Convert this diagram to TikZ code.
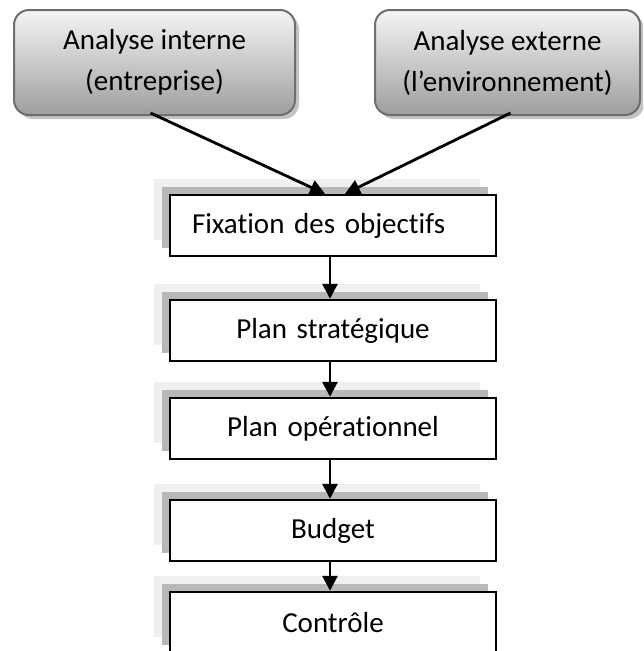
\documentclass[tikz,border=0pt]{standalone}
\usepackage{fontspec}
\setmainfont{Carlito}[Ligatures=NoCommon]
\usetikzlibrary{shadows,arrows.meta}
\definecolor{shadelight}{HTML}{F0F0F0}
\definecolor{shadedark}{HTML}{B8B8B8}
\definecolor{roundedge}{HTML}{6E6E6E}
\definecolor{dropgray}{HTML}{C4C4C4}
\tikzset{
  lbl/.style={font=\fontsize{29}{41}\selectfont},
  analysis/.style={lbl, rounded corners=15pt, draw=roundedge, line width=2pt,
    top color=black!4, bottom color=black!38, align=center,
    minimum height=105pt, inner sep=0pt,
    drop shadow={shadow xshift=4pt, shadow yshift=-4pt, fill=dropgray, opacity=1}},
  stagebox/.style={lbl, draw=black, line width=2.4pt, fill=white,
    minimum width=326pt, minimum height=61pt, inner xsep=22pt, inner ysep=0pt,
    text width=282pt, align=center,
    copy shadow={shadow xshift=-16pt, shadow yshift=16pt, fill=shadelight, draw=none},
    copy shadow={shadow xshift=-8pt, shadow yshift=8pt, fill=shadedark, draw=none}},
  flow/.style={line width=2.8pt, -{Triangle[width=15pt,length=15pt]}}
}
\begin{document}
\begin{tikzpicture}[x=1pt,y=-1pt]
  \useasboundingbox (0,0) rectangle (643,651);
  \clip (0,0) rectangle (643,651);

  % two analyses feeding the objectives
  \node[analysis, minimum width=281pt] (interne) at (154.5,62.5)
    {Analyse interne\\(entreprise)};
  \node[analysis, minimum width=265pt] (externe) at (507.5,62.5)
    {Analyse externe\\(l’environnement)};

  % planning chain
  \node[stagebox, align=left] (fix) at (333,225.5) {Fixation des objectifs};
  \node[stagebox] (strat) at (333,330.5) {Plan stratégique};
  \node[stagebox] (oper) at (333,428.5) {Plan opérationnel};
  \node[stagebox] (budget) at (333,530.5) {Budget};
  \node[stagebox] (ctrl) at (333,622.5) {Contrôle};

  % connectors
  \draw[flow] ([xshift=-4pt,yshift=3pt]interne.south) -- ([xshift=-8pt]fix.north);
  \draw[flow] ([xshift=3pt,yshift=3pt]externe.south) -- ([xshift=12pt]fix.north);
  \draw[flow] ([xshift=-3pt]fix.south) -- ([xshift=-3pt]strat.north);
  \draw[flow] ([xshift=-3pt]strat.south) -- ([xshift=-3pt]oper.north);
  \draw[flow] ([xshift=-3pt]oper.south) -- ([xshift=-3pt]budget.north);
  \draw[flow] ([xshift=-3pt]budget.south) -- ([xshift=-3pt]ctrl.north);
\end{tikzpicture}
\end{document}
